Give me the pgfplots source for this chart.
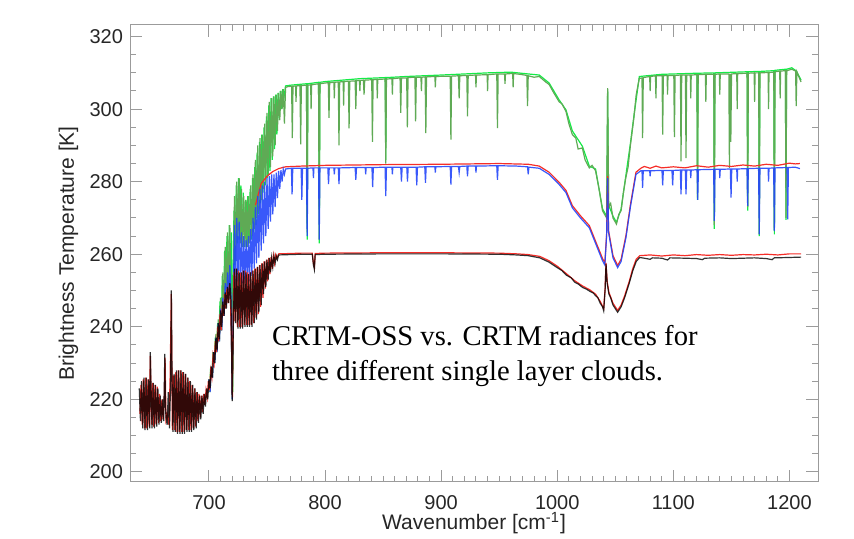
\documentclass[border=0pt]{standalone}
\usepackage{pgfplots}
\pgfplotsset{compat=1.18}
\usepackage{fontspec}
\setmainfont{Liberation Sans}
\newfontfamily\timesfont{Liberation Serif}
\definecolor{axgray}{RGB}{155,155,155}
\definecolor{gbright}{RGB}{20,235,70}
\definecolor{gdark}{RGB}{95,170,85}
\definecolor{bblue}{RGB}{35,70,250}
\definecolor{rred}{RGB}{245,45,40}
\begin{document}
\begin{tikzpicture}
\useasboundingbox (0,0) rectangle (427pt,269.5pt);
\begin{axis}[
 at={(65pt,28.5pt)}, anchor=south west,
 scale only axis, width=344pt, height=228.5pt,
 xmin=632, xmax=1224.6, ymin=197.2, ymax=323.2,
 xtick={700,800,...,1200}, ytick={200,220,...,320},
 minor x tick num=9, minor y tick num=3,
 tick align=inside, tick pos=both,
 major tick length=6pt, minor tick length=3pt,
 axis line style={axgray, line width=0.5pt},
 every tick/.style={axgray, line width=0.5pt},
 ticklabel style={font=\fontsize{10}{12}\selectfont, text=black!85},
 /pgf/number format/assume math mode=true,
 /pgf/number format/set thousands separator={},
 xticklabel style={inner sep=0pt, yshift=-6.5pt},
 yticklabel style={inner sep=0pt, xshift=-3.35pt},
 xlabel={Wavenumber [cm\textsuperscript{-1}]},
 ylabel={Brightness Temperature [K]},
 every axis x label/.style={at={(axis description cs:0.5,-0.105)}, anchor=base, inner sep=0pt, font=\fontsize{10.5}{12}\selectfont, text=black!85},
 every axis y label/.style={at={(axis description cs:-0.0814,0.5)}, rotate=90, anchor=base, inner sep=0pt, font=\fontsize{10.5}{12}\selectfont, text=black!85},
]
% ---------- top cloud: bright green ----------
\addplot[gbright, line width=0.6pt, mark=none] coordinates {
(700.5,222)(701.5,229)(702.5,226)(703.5,233)(704.5,230)(705.5,237)(706.5,233)(707.5,241)(708.5,236)(709.5,247)(710.5,239)(711.5,254)(712.5,243)(713.5,261)(714.5,246)(715.5,265)(716.5,248)(717.5,268)(718.5,249)(719.5,266)(720.5,222)(721.5,272)(722.5,257)(723.5,279)(724.5,263)(725.5,281)(726.5,264)(727.5,279)(728.5,262)(729.5,277)(730.5,262)(731.5,275)(732.5,262)(733.5,276)(734.5,263)(735.5,278)(736.5,264)(737.5,281)(738.5,266)(739.5,284)(740.5,268)(741.5,288)(742.5,271)(743.5,291)(744.5,274)(745.5,293)(746.5,277)(747.5,295)(748.5,279)(749.5,298)(750.5,281)(751.5,301)(752.5,283)(753.5,303)(754.5,286)(755.5,303.5)(756.5,289)(757.5,304)(758.5,293)(759.5,304.5)(760.5,297)(761.5,305)(762.5,300)(763.5,305.5)(764.5,303)(766,306.4)
(770,306.6)(784,307)(784.6,264)(785.2,307)(794.4,307.4)(795,263)(795.6,307.4)(800,307.6)(830,308.4)(851.8,308.7)(852.3,286)(852.8,308.7)(870,309)(900,309.4)(940,310)(960,310.2)(975,309.7)(984.5,309.4)(993,307.2)(1001.7,302.5)(1007.5,299.8)(1013,294)(1021.6,289.8)(1027.6,284.3)(1033,283.5)(1039,272.5)(1042.5,270.5)(1043.4,305)(1044.3,273.5)(1048,270.5)(1051,268.8)(1055,272.5)(1059,281.5)(1063,290.5)(1066,298)(1070.7,309)(1090,309.6)(1120.3,309.9)(1120.8,275)(1121.3,309.9)(1134.8,310)(1135.3,267)(1135.8,310)(1163.5,310.3)(1164,272)(1164.5,310.3)(1173.5,310.4)(1174,265)(1174.5,310.4)(1186.5,310.6)(1187,265.5)(1187.5,310.7)(1196.5,311)(1197,269.5)(1197.5,311)(1202,311.4)(1206,310.5)(1210,308)
};
% ---------- top cloud: dark green ----------
\addplot[gdark, line width=0.6pt, mark=none] coordinates {
(700,225.5)(701,222)(702,229)(703,226)(704,233)(705,230)(706,238)(707,233)(708,242)(709,236)(710,248)(711,239)(712,255)(713,243)(714,262)(715,246)(716,266)(717,248)(718,268)(719,249)(720,220)(721,252)(722,276)(723,258)(724,280)(725,264)(726,281)(727,263)(728,278)(729,262)(730,276)(731,262)(732,275)(733,262)(734,276)(735,263)(736,279)(737,265)(738,282)(739,267)(740,286)(741,270)(742,290)(743,272)(744,292)(745,275)(746,293)(747,278)(748,296)(749,280)(750,299)(751,282)(752,302)(753,284)(754,303)(755,287)(756,303.5)(757,290)(758,304)(759,294)(760,304.5)(761,297)(762,305)(763,300)(764,305.5)(765,296)(766,306)
(768,306.2)(771.2,306.3)(771.8,292)(772.4,306.3)(774.6,306.4)(775,302)(775.4,306.4)(778.4,306.5)(779,290.3)(779.6,306.5)(784,306.6)(784.6,266)(785.2,306.6)(787.6,306.7)(788,300)(788.4,306.7)(790,306.8)(794.4,307)(795,264)(795.6,307)(800,307.2)(802.8,307.3)(803.4,297.6)(804,307.3)(807.6,307.4)(808,303)(808.4,307.4)(811.4,307.5)(812,290)(812.6,307.5)(815.6,307.6)(816,301)(816.4,307.6)(820.1,307.7)(820.7,294.7)(821.3,307.7)(825.9,307.8)(826.5,300)(827.1,307.9)(829.6,307.9)(830,305)(830.4,307.9)(833,308)(833.6,304)(834.2,308)(840.2,308.1)(840.8,291)(841.4,308.1)(844.6,308.2)(845,303)(845.4,308.2)(851.7,308.3)(852.3,285)(852.9,308.3)(857.6,308.4)(858,304)(858.4,308.4)(864.6,308.6)(865.2,299)(865.8,308.6)(870.3,308.6)(870.9,295)(871.5,308.7)(877.4,308.8)(878,296.6)(878.6,308.8)(882.6,308.8)(883,305)(883.4,308.8)(886.2,308.9)(886.8,293.4)(887.4,308.9)(894.6,309)(895,306)(895.4,309)(907.8,309.1)(908.4,291.6)(909,309.1)(914.9,309.2)(915.5,303)(916.1,309.2)(922.1,309.3)(922.7,298)(923.3,309.3)(929.6,309.4)(930,306)(930.4,309.4)(939.6,309.5)(940,305)(940.4,309.5)(947.9,309.7)(948.5,294.8)(949.1,309.7)(954.6,309.7)(955,307)(955.4,309.7)(960,309.8)(961.6,309.8)(962,306)(962.4,309.8)(968,309.6)(973.8,309.3)(974.4,300.8)(975,309.2)(980,308.8)(984.5,309)(990,307.5)(993,306.8)(997,304.5)(1001.7,302)(1004,301.5)(1007.5,299.4)(1010,296)(1013,293)(1016,292)(1018,289)(1021.6,289.3)(1024,286)(1027.6,283.8)(1030,284.5)(1033,283)(1036,278)(1039,272)(1042.5,270)(1043.4,305.8)(1044.3,273)(1046,274)(1048,270)(1051,268.3)(1053,271)(1055,272)(1057,277)(1059,281)(1061,284)(1063,290)(1066,297.6)(1068,304)(1070.7,308.5)(1073,308.6)(1073.5,292)(1074.1,308.7)(1079.6,309)(1080,305)(1080.4,309)(1084.6,309.2)(1085,303)(1085.4,309.2)(1090.3,309.2)(1090.8,293)(1091.4,309.2)(1094.6,309.3)(1095,304)(1095.4,309.3)(1100.4,309.3)(1100.9,292.3)(1101.5,309.3)(1106.1,309.4)(1106.6,285.6)(1107.2,309.4)(1110.4,309.4)(1110.9,286.5)(1111.5,309.4)(1114.6,309.4)(1115,303)(1115.4,309.4)(1120.3,309.5)(1120.8,275.6)(1121.4,309.5)(1127.6,309.6)(1128,302)(1128.4,309.6)(1134.8,309.6)(1135.3,268)(1135.9,309.6)(1139.6,309.7)(1140,304)(1140.4,309.7)(1147.8,309.7)(1148.3,283.8)(1148.9,309.7)(1149.5,291)(1150.1,309.7)(1154.6,309.8)(1155,300)(1155.4,309.8)(1163.5,309.9)(1164,273)(1164.6,309.9)(1169.6,310)(1170,302)(1170.4,310)(1173.5,310)(1174,265.5)(1174.6,310)(1181.6,310.1)(1182,300)(1182.4,310.1)(1186.5,310.2)(1187,266.4)(1187.6,310.3)(1191.6,310.5)(1192,303)(1192.4,310.5)(1196.5,310.6)(1197,270)(1197.6,310.6)(1202,311)(1205.3,310.5)(1205.8,300.8)(1206.4,310.3)(1208,309)(1210,307.5)
};
% ---------- middle cloud: red ----------
\addplot[rred, line width=0.6pt, mark=none] coordinates {
(740,273.5)(745,279.5)(750,281.5)(755,282.8)(760,283.6)(766,284.1)(780,284.3)(800,284.5)(850,284.7)(900,284.8)(950,285)(975,284.8)(984.5,284.3)(993,282.6)(1001.7,279.8)(1007.5,277.6)(1013,273.4)(1020,270.6)(1027.6,267.9)(1033,263.6)(1039,258.8)(1041,257.6)(1042.5,265.5)(1043.4,281.5)(1044.2,266.5)(1048,259.6)(1052,256.9)(1055,258.6)(1059.2,265.2)(1063,273.6)(1067.8,282.6)(1072,283.7)(1075,284.2)(1080,283.7)(1085,284.3)(1090,283.8)(1100,284.1)(1110,283.8)(1120,284.4)(1130,284)(1140,284.5)(1150,284.2)(1160,284.6)(1170,284.3)(1180,284.8)(1190,284.5)(1200,285.1)(1205,284.9)(1209,285)
};
% ---------- middle cloud: blue ----------
\addplot[bblue, opacity=0.9, line width=0.6pt, mark=none] coordinates {
(700,225.5)(701,222)(702,229)(703,226)(704,233)(705,230)(706,237)(707,233)(708,241)(709,236)(710,245)(711,239)(712,248)(713,243)(714,252)(715,246)(716,255)(717,247.5)(718,257)(719,248)(720,220)(721,249)(722,268)(723,251)(724,270)(725,252.5)(726,269)(727,252.5)(728,266)(729,252)(730,265)(731,252)(732,264)(733,252)(734,265)(735,252.5)(736,267)(737,254)(738,270)(739,256)(740,273)(741,257.5)(742,276)(743,259)(744,278)(745,261)(746,279)(747,263)(748,280)(749,265)(750,281)(751,267)(752,281.5)(753,269)(754,282)(755,271)(756,282)(757,273)(758,282.5)(759,275.5)(760,283)(761,278)(762,283.2)(763,280)(764,283.4)(765,282)(766,283.5)
(771,283.7)(771.6,276.5)(772.2,283.7)(779.4,283.7)(780,275)(780.6,283.7)(784,283.7)(784.6,265)(785.2,283.7)(789.6,283.8)(790,281)(790.4,283.8)(794.4,283.8)(795,264)(795.6,283.8)(802.4,283.8)(803,279.3)(803.6,283.8)(807.6,283.8)(808,282)(808.4,283.8)(811.4,283.8)(812,279.3)(812.6,283.8)(825.9,283.9)(826.5,280.5)(827.1,283.9)(834.6,283.9)(835,282)(835.4,283.9)(840.4,283.9)(841,278.5)(841.6,283.9)(851.7,284)(852.3,276)(852.9,284)(857.6,284)(858,282)(858.4,284)(865.2,284)(865.8,280)(866.4,284)(870.4,284)(871,280)(871.6,284)(878.4,284)(879,279)(879.6,284)(885.9,284.1)(886.5,279.7)(887.1,284.1)(894.6,284.1)(895,282.5)(895.4,284.1)(907.8,284.2)(908.4,279.2)(909,284.2)(914.9,284.2)(915.5,282.5)(916.1,284.2)(922.1,284.3)(922.7,281.5)(923.3,284.3)(929.6,284.3)(930,282.5)(930.4,284.3)(947.9,284.4)(948.5,280.5)(949.1,284.4)(965,284.3)(974.4,284.1)(975,282)(975.6,284)(984.5,283.7)(993,282)(1001.7,279.2)(1007.5,277)(1013,272.8)(1020,270)(1027.6,267.3)(1033,263)(1039,258.2)(1041,257)(1042.5,265)(1043.4,281)(1044.2,266)(1048,259)(1052,256.3)(1055,258)(1059.2,264.6)(1063,273)(1067.8,282)(1072,283)(1073,283)(1073.5,278.3)(1074.1,283)(1079.6,283)(1080,281.5)(1080.4,283)(1090.2,283.1)(1090.8,279)(1091.4,283.1)(1098.8,283.1)(1099.4,279)(1100,283.1)(1106,283.2)(1106.6,276.5)(1107.2,283.2)(1110.3,283.2)(1110.9,276.5)(1111.5,283.2)(1114.6,283.2)(1115,281)(1115.4,283.2)(1120.4,283.3)(1121,275)(1121.6,283.3)(1134.7,283.4)(1135.3,269.2)(1135.9,283.4)(1139.6,283.4)(1140,281)(1140.4,283.4)(1149.1,283.5)(1149.7,275.6)(1150.3,283.5)(1154.6,283.5)(1155,280)(1155.4,283.5)(1163.4,283.6)(1164,273.3)(1164.6,283.6)(1173.4,283.7)(1174,265.5)(1174.6,283.7)(1181.6,283.7)(1182,280)(1182.4,283.7)(1186.4,283.8)(1187,266.4)(1187.6,283.8)(1197.9,283.9)(1198.5,269.6)(1199.1,283.9)(1205,284)(1209,283.6)
};
% ---------- low cloud: red ----------
\addplot[rred, line width=0.6pt, mark=none] coordinates {
(640.5,216)(641.5,224)(642.5,213)(643.5,225.5)(644.5,212)(645.5,226)(646.5,212)(647.5,225.5)(648.5,212.5)(649.5,232)(650.5,213)(651.5,224.5)(652.5,212.5)(653.5,224)(654.5,213)(655.5,223.5)(656.5,213.5)(657.5,221.5)(658.5,214)(659.5,220)(660.5,214.5)(661.5,219.5)(662.2,231.5)(663,214.5)(664,216)(665.5,213)(666.5,225)(667.6,249)(668.5,211.5)(669.5,226.5)(670.5,211.5)(671.5,227.5)(672.5,211)(673.5,228)(674.5,211)(675.5,228)(676.5,211)(677.5,227.5)(678.5,211)(679.5,227)(680.5,211.5)(681.5,226)(682.5,211.5)(683.5,225)(684.5,211.5)(685.5,224)(686.5,212)(687.5,223)(688.5,212.5)(689.5,222)(690.5,214)(691.5,221.5)(692.5,215)(693.5,221)(694.5,216.5)(695.5,221.5)(696.5,218.5)(697.5,222.5)(698.5,220.5)(699.5,225)(700.5,222.5)(701.5,228)(702.5,226)(703.5,232)(704.5,230)(705.5,236)(706.5,233)(707.5,240)(708.5,236)(709.5,243.5)(710.5,239)(711.5,246)(712.5,243)(713.5,249)(714.5,245)(715.5,250.5)(716.5,246.5)(717.5,251.5)(718.5,247.5)(719.5,235)(720.2,220.5)(721,245)(721.5,255)(722.5,241.5)(723.5,256)(724.5,240)(725.5,255.5)(726.5,240)(727.5,255)(728.5,240)(729.5,255.5)(730.5,240.5)(731.5,255.5)(732.5,240.5)(733.5,255)(734.5,240.5)(735.5,255)(736.5,240.5)(737.5,255.5)(738.5,241)(739.5,256)(740.5,242.5)(741.5,256.5)(742.5,243.5)(743.5,257)(744.5,245.5)(745.5,257.5)(746.5,248)(747.5,258)(748.5,250.5)(749.5,258.5)(750.5,252.5)(751.5,259)(752.5,254.5)(753.5,259.2)(754.5,256)(755.5,259.6)(756.5,257.5)(757.5,259.8)(758.5,258.8)(760,260.1)
(770,260.2)(780,260.3)(789,260.3)(790,257.5)(790.8,256.5)(791.5,260.2)(800,260.3)(850,260.4)(900,260.4)(950,260.3)(965,260.1)(975,259.9)(985,259.4)(993,258.2)(1000,256.7)(1008,254.6)(1015,252.7)(1022,251.2)(1028,250.2)(1033,249)(1037,247)(1040,245)(1041.2,250.5)(1042,257.6)(1043,252.5)(1044.5,249.5)(1048,246.5)(1052,244.5)(1055,246)(1058,248.5)(1062,252.5)(1065,256)(1068,258.6)(1071,259.6)(1080,259.8)(1090,259.5)(1100,259.8)(1110,259.6)(1120,259.9)(1130,259.7)(1140,259.9)(1150,259.7)(1160,259.9)(1170,259.8)(1180,260)(1190,259.8)(1200,260.1)(1210,260.1)
};
% ---------- low cloud: black ----------
\addplot[black, opacity=0.8, line width=0.6pt, mark=none] coordinates {
(640,223)(641,214)(642,225)(643,212)(644,226)(645,211.5)(646,226)(647,211.5)(648,225.5)(649,212)(649.5,233)(650,225)(651,212)(652,224.5)(653,212)(654,224)(655,212.5)(656,223)(657,213)(658,221)(659,213.5)(660,220)(661,214)(662,232.5)(662.5,219)(663,215)(664,213)(665,222)(666,212)(667,225)(667.6,250)(668.2,226)(669,211)(670,227)(671,211)(672,228)(673,210.5)(674,228)(675,210.5)(676,228)(677,210.5)(678,227.5)(679,210.5)(680,227)(681,211)(682,226)(683,211)(684,225)(685,211)(686,224)(687,211.5)(688,223)(689,212)(690,222)(691,213.5)(692,221)(693,214.5)(694,221)(695,216)(696,221.5)(697,218)(698,223)(699,220)(700,225.5)(701,223)(702,229)(703,226)(704,233)(705,230)(706,237)(707,233.5)(708,241)(709,236.5)(710,244.5)(711,240)(712,247)(713,243)(714,249.5)(715,245)(716,251)(717,246.5)(718,252)(719,247)(720,219.5)(721,240)(722,256)(723,241)(724,256)(725,239.5)(726,255)(727,239.5)(728,255)(729,239.5)(730,255.5)(731,240)(732,255)(733,240)(734,254.5)(735,240)(736,255)(737,240)(738,255.5)(739,241)(740,256)(741,242)(742,256.5)(743,244)(744,257)(745,246)(746,257.5)(747,249)(748,258)(749,251)(750,258.5)(751,253)(752,259)(753,255)(754,259)(755,256.5)(756,259.5)(757,257.5)(758,259.5)(759,258.5)(760,259.8)
(770,259.9)(780,260)(789,260)(790,257)(790.8,255.8)(791.5,259.9)(800,260)(850,260.1)(900,260.1)(950,260)(965,259.8)(975,259.6)(985,259)(993,257.8)(1000,256.3)(1004,255.5)(1008,254.2)(1012,253.5)(1015,252.3)(1018,251.8)(1022,250.8)(1025,250.4)(1028,249.8)(1031,249.3)(1033,248.6)(1035,248)(1037,246.5)(1039,245.5)(1040,244.4)(1041.2,250)(1042,257.3)(1043,252)(1044.5,249)(1046,248)(1048,246)(1050,245)(1052,244)(1054,245)(1055,245.5)(1058,248)(1060,250)(1062,252)(1065,255.4)(1068,258)(1071,259.1)(1075,258.9)(1080,258.6)(1082,259)(1090,258.9)(1095,258.4)(1097,259)(1110,258.9)(1120,258.8)(1125,258.5)(1127,258.9)(1140,259)(1150,258.8)(1160,258.9)(1170,259)(1180,258.8)(1185,258.5)(1187,259)(1200,259.1)(1210,259.2)
};
\node[anchor=base west, inner sep=0pt, font=\timesfont\fontsize{14.3}{17}\selectfont] at (axis cs:754,234.95) {CRTM-OSS vs. CRTM radiances for};
\node[anchor=base west, inner sep=0pt, font=\timesfont\fontsize{14.3}{17}\selectfont] at (axis cs:754,225.3) {three different single layer clouds.};
\end{axis}
\end{tikzpicture}
\end{document}
